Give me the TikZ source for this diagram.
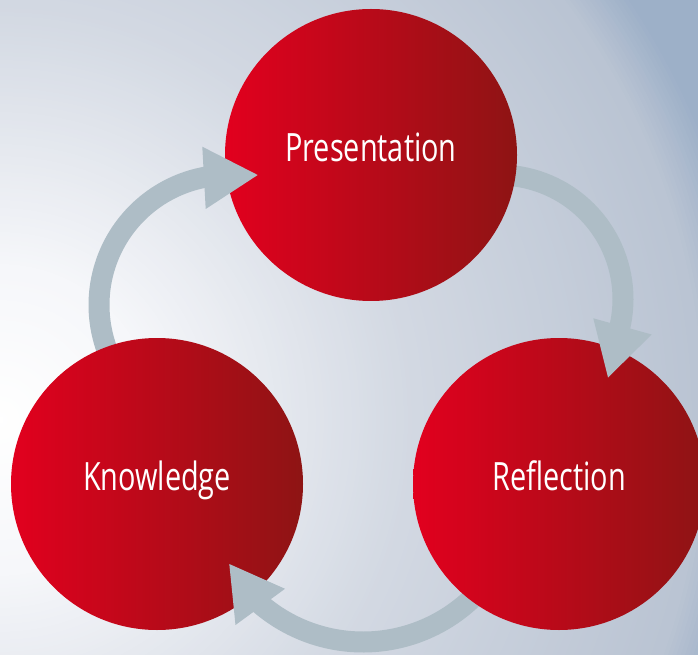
\documentclass[tikz,border=0pt]{standalone}
\usepackage{fontspec}
\newfontfamily\labelfont{Open Sans}[FakeStretch=0.74]
\definecolor{redL}{HTML}{E2001E}
\definecolor{redR}{HTML}{8E1414}
\definecolor{arrowgray}{HTML}{AEBDC6}
\definecolor{bgA}{HTML}{F6F7FA}
\definecolor{bgB}{HTML}{D2D8E2}
\definecolor{bgC}{HTML}{BAC4D3}
\definecolor{bgD}{HTML}{9DB0C8}
\tikzset{
  bubble/.style={circle, minimum size=292pt, inner sep=0pt, left color=redL, right color=redR, draw=none,
    text=white, font=\labelfont\fontsize{39}{42}\selectfont, text depth=0pt},
  shaft/.style={draw=arrowgray, line width=21pt},
  head/.style={fill=arrowgray}
}
\begin{document}
\begin{tikzpicture}[x=1pt,y=1pt]
\useasboundingbox (0,0) rectangle (698,654);
\begin{scope}
  \clip (0,0) rectangle (698,654);
  \fill[bgD] (0,0) rectangle (698,654);
  \coordinate (bgc) at (0,234);
  \foreach \r in {760,756,...,704} {\pgfmathsetmacro\p{(\r-704)/56*100}\fill[bgD!\p!bgC] (bgc) circle (\r pt);}
  \foreach \r in {700,696,...,420} {\pgfmathsetmacro\p{(\r-420)/280*100}\fill[bgC!\p!bgB] (bgc) circle (\r pt);}
  \foreach \r in {416,412,...,152} {\pgfmathsetmacro\p{(\r-152)/264*100}\fill[bgB!\p!bgA] (bgc) circle (\r pt);}
  \foreach \r in {148,144,...,4} {\pgfmathsetmacro\p{\r/148*100}\fill[bgA!\p!white] (bgc) circle (\r pt);}
\end{scope}
% arc centres
\coordinate (c1) at (229,349);
\coordinate (c2) at (499,355);
\coordinate (c3) at (363,170);
% shafts (under the circles)
\draw[shaft] (c1) ++(215:130pt) arc[start angle=215, end angle=100, radius=130pt] coordinate (b1);
\draw[shaft] (c2) ++(120:124pt) arc[start angle=120, end angle=-14, radius=124pt] coordinate (b2);
\draw[shaft] (c3) ++(-20:158pt) arc[start angle=-20, end angle=-131, radius=158pt] coordinate (b3);
% circles
\node[bubble, text height=14pt] (P) at (371,499) {Presentation};
\node[bubble, text height=13pt] (K) at (157,170) {Knowledge};
\node[bubble, text height=13pt] (R) at (559,170) {Reflection};
% arrow heads (on top)
\coordinate (t1) at (257.7,479);
\coordinate (t2) at (608,276.5);
\coordinate (t3) at (229.3,90);
\fill[head] (t1) -- (202.3,507.3) -- (205.7,445) -- cycle;
\fill[head] (t2) -- (593.3,335.7) -- (651.7,319.5) -- cycle;
\fill[head] (t3) -- (285,65.2) -- (235.5,29) -- cycle;
\end{tikzpicture}
\end{document}
